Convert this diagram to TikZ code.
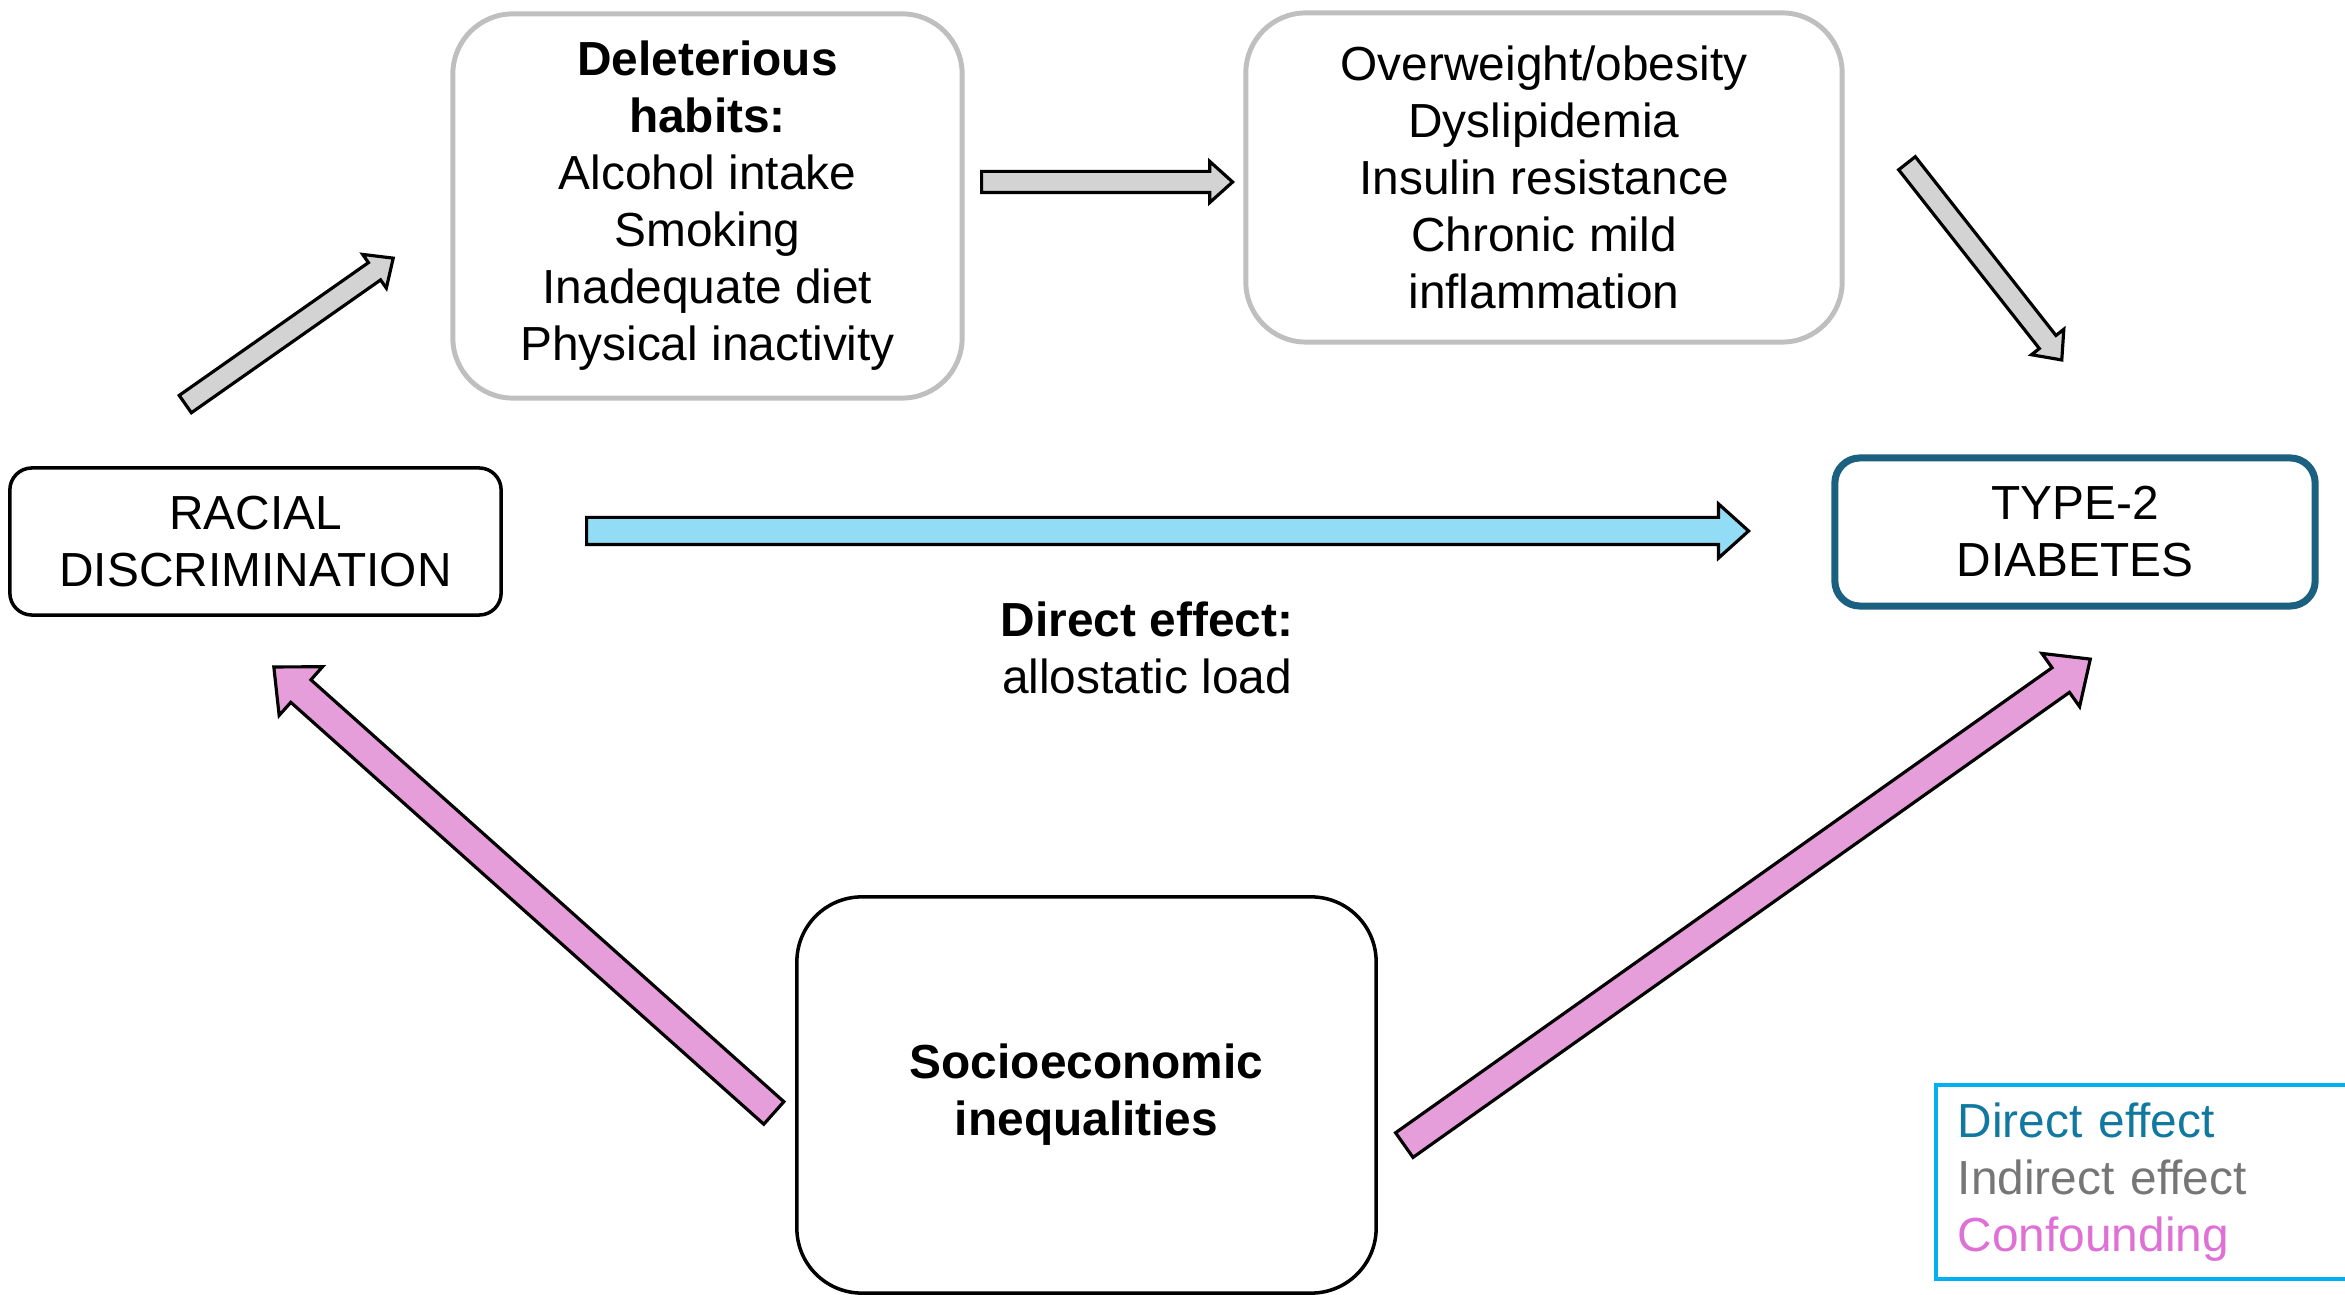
\documentclass[tikz,border=0pt]{standalone}
\usepackage{fontspec}
\setmainfont{Liberation Sans}
\usetikzlibrary{shapes.arrows, calc}

\definecolor{boxgray}{RGB}{191,191,191}
\definecolor{boxteal}{RGB}{27,96,128}
\definecolor{arrowgray}{RGB}{211,211,211}
\definecolor{arrowblue}{RGB}{146,220,245}
\definecolor{arrowpink}{RGB}{230,158,218}
\definecolor{legendcyan}{RGB}{0,176,240}
\definecolor{txtdirect}{RGB}{17,120,160}
\definecolor{txtindirect}{RGB}{118,118,118}
\definecolor{txtconf}{RGB}{222,112,214}

\tikzset{
  softbox/.style={draw=boxgray, line width=1.4pt, rounded corners=0.6cm, align=center, inner sep=0pt},
  hardbox/.style={draw=black, line width=1pt, rounded corners=0.22cm, align=center, inner sep=0pt},
  outcomebox/.style={draw=boxteal, line width=2pt, rounded corners=0.25cm, align=center, inner sep=0pt},
  fatarrow/.style={single arrow, draw=black, line width=0.9pt, inner xsep=0pt,
    single arrow head indent=0pt, single arrow tip angle=84, anchor=tail},
  grayarrow/.style={fatarrow, fill=arrowgray, inner ysep=0.09cm, single arrow head extend=0.10cm},
  bluearrow/.style={fatarrow, fill=arrowblue, inner ysep=0.12cm, single arrow head extend=0.135cm},
  pinkarrow/.style={fatarrow, fill=arrowpink, inner ysep=0.135cm, single arrow head extend=0.175cm},
}

% block arrow from tail to tip: style, name, tail, tip
\newcommand{\blockarrow}[4]{%
  \path let \p1=(#3), \p2=(#4), \n1={atan2(\y2-\y1,\x2-\x1)}, \n2={veclen(\x2-\x1,\y2-\y1)} in
    node[#1, rotate=\n1, minimum height=\n2] (#2) at (\p1) {};}

\begin{document}
\begin{tikzpicture}[x=0.01cm, y=-0.01cm, font=\fontsize{13.6}{16.2}\selectfont]
  \useasboundingbox (0,0) rectangle (2345,1295);
  % boxes
  \node[softbox, minimum width=5.09cm, minimum height=3.84cm] (habits) at (707.5,206)
    {\textbf{Deleterious}\\\textbf{habits:}\\Alcohol intake\\Smoking\\Inadequate diet\\Physical inactivity};
  \node[softbox, minimum width=5.96cm, minimum height=3.29cm] (markers) at (1544,177.5)
    {Overweight/obesity\\Dyslipidemia\\Insulin resistance\\Chronic mild\\inflammation};
  \node[hardbox, minimum width=4.91cm, minimum height=1.47cm] (racism) at (255.5,541.5)
    {RACIAL\\DISCRIMINATION};
  \node[outcomebox, minimum width=4.80cm, minimum height=1.48cm] (diabetes) at (2075,532)
    {TYPE-2\\DIABETES};
  \node[hardbox, rounded corners=0.65cm, minimum width=5.79cm, minimum height=3.96cm] (ses) at (1086.5,1095)
    {\textbf{Socioeconomic}\\\textbf{inequalities}};
  \node[align=center] (directlbl) at (1147,648) {\textbf{Direct effect:}\\allostatic load};
  % legend
  \node[draw=legendcyan, line width=1pt, anchor=north west, text width=4cm, align=left,
    inner xsep=0.22cm, minimum height=1.94cm] (legend) at (1934,1083)
    {\textcolor{txtdirect}{Direct effect}\\\textcolor{txtindirect}{Indirect effect}\\\textcolor{txtconf}{Confounding}};
  % arrow ends
  \coordinate (g1t) at (184,405);  \coordinate (g1h) at (392,259);
  \coordinate (g2t) at (980,182);  \coordinate (g2h) at (1231,182);
  \coordinate (g3t) at (1906,162); \coordinate (g3h) at (2061,359);
  \coordinate (b1t) at (585,531);  \coordinate (b1h) at (1747,531);
  \coordinate (p1t) at (775,1114); \coordinate (p1h) at (275,668);
  \coordinate (p2t) at (1403,1146); \coordinate (p2h) at (2089,660);
  % indirect path
  \blockarrow{grayarrow}{toHabits}{g1t}{g1h}
  \blockarrow{grayarrow}{toMarkers}{g2t}{g2h}
  \blockarrow{grayarrow}{toDiabetes}{g3t}{g3h}
  % direct effect
  \blockarrow{bluearrow}{direct}{b1t}{b1h}
  % confounding
  \blockarrow{pinkarrow}{confRacism}{p1t}{p1h}
  \blockarrow{pinkarrow}{confDiabetes}{p2t}{p2h}
\end{tikzpicture}
\end{document}
